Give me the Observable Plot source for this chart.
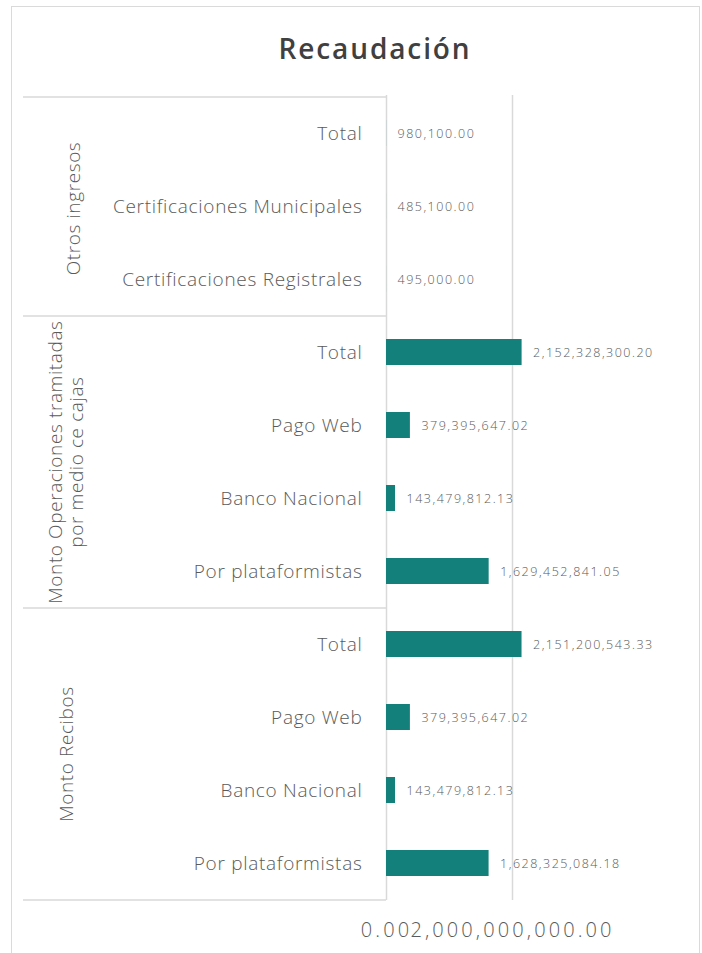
<!DOCTYPE html>
<html>
<head>
<meta charset="utf-8">
<script src="https://cdn.jsdelivr.net/npm/d3@7"></script>
<script src="https://cdn.jsdelivr.net/npm/@observablehq/plot@0.6"></script>
<style>
  html, body { margin: 0; padding: 0; background: #fff; overflow: hidden; }
  #frame { position: absolute; left: 11px; top: 6px; width: 689px; height: 1000px;
           border: 1.5px solid #dadada; box-sizing: border-box; }
  #title { position: absolute; left: 0; top: 0; width: 750px; height: 96px; line-height: 96px;
           text-align: center; font-family: "Open Sans", Lato, sans-serif; font-weight: 600;
           font-size: 28px; letter-spacing: 1.9px; color: #404040; }
  #chart { position: absolute; left: 0; top: 85px; }
  #chart svg { background: transparent; }
  #chart g[aria-label="x-axis tick label"] text { letter-spacing: 3.1px; }
  #chart g[aria-label="y-axis tick label"] text { letter-spacing: 0.7px; }
  #chart g.vals text { letter-spacing: 1.5px; }
  #chart g.grp text { letter-spacing: 0.6px; }
</style>
</head>
<body>
<div id="frame"></div>
<div id="title">Recaudación</div>
<div id="chart"></div>
<script>
// ---- data ----
const groupNames = ["Otros ingresos", "Monto Operaciones tramitadas\npor medio ce cajas", "Monto Recibos"];
const otrosCats = ["Total", "Certificaciones Municipales", "Certificaciones Registrales"];
const otrosValues = [980100.00, 485100.00, 495000.00];
const cajasCats = ["Total", "Pago Web", "Banco Nacional", "Por plataformistas"];
const cajasValues = [2152328300.20, 379395647.02, 143479812.13, 1629452841.05];
const recibosCats = ["Total", "Pago Web", "Banco Nacional", "Por plataformistas"];
const recibosValues = [2151200543.33, 379395647.02, 143479812.13, 1628325084.18];
const xTicks = [0, 2000000000];

// ---- build table ----
const groupCats = [otrosCats, cajasCats, recibosCats];
const groupValues = [otrosValues, cajasValues, recibosValues];
const rows = [];
groupNames.forEach((g, gi) => {
  groupCats[gi].forEach((c, ci) => {
    rows.push({group: g, cat: c, value: groupValues[gi][ci], key: gi + "|" + c});
  });
});
const keys = rows.map(d => d.key);

// ---- layout ----
const W = 702, H = 868;
const mt = 10, mb = 53, ml = 386, mr = 13.6;
const step = (H - mt - mb) / keys.length;
const pad = 0.645;

const groupLabels = groupNames.map((g, gi) => {
  const gr = rows.filter(d => d.group === g);
  const n = gr.length;
  return {name: g, key: gr[Math.floor((n - 1) / 2)].key, even: n % 2 === 0};
});
const groupTops = groupNames.map(g => rows.find(d => d.group === g));
const lastRow = [rows[rows.length - 1]];

const fmt = d3.format(",.2f");
const gray = "#5a5a5a";
const lineCol = "#d9d9d9";
const font = "'Open Sans', Lato, sans-serif";

const chart = Plot.plot({
  width: W, height: H,
  marginTop: mt, marginBottom: mb, marginLeft: ml, marginRight: mr,
  style: {fontFamily: font, color: gray, background: "transparent"},
  x: {domain: [0, 4800000000]},
  y: {domain: keys, paddingInner: pad, paddingOuter: pad / 2},
  marks: [
    Plot.ruleX(xTicks, {stroke: lineCol, strokeWidth: 1.5}),
    Plot.ruleY(groupTops, {y: "key", x1: 0, x2: 0, insetLeft: -363, dy: -step / 2, stroke: lineCol, strokeWidth: 1.5}),
    Plot.ruleY(lastRow, {y: "key", x1: 0, x2: 0, insetLeft: -363, dy: step / 2, stroke: lineCol, strokeWidth: 1.5}),
    Plot.barX(rows, {x: "value", y: "key", fill: "#13807b"}),
    Plot.text(rows, {x: "value", y: "key", text: d => fmt(d.value), textAnchor: "start", dx: 11,
                     fontSize: 12.5, fontWeight: 300, fill: gray, className: "vals"}),
    Plot.text(groupLabels.filter(d => !d.even), {y: "key", text: "name", frameAnchor: "left", rotate: -90,
                     textAnchor: "middle", dx: -314, dy: 2, fontSize: 19, fontWeight: 300, fill: gray, lineHeight: 1.15, className: "grp"}),
    Plot.text(groupLabels.filter(d => d.even), {y: "key", text: "name", frameAnchor: "left", rotate: -90,
                     textAnchor: "middle", dx: -321, dy: step / 2, fontSize: 19, fontWeight: 300, fill: gray, lineHeight: 1.15, className: "grp"}),
    Plot.axisY({tickSize: 0, tickPadding: 24, tickFormat: k => k.split("|")[1], fontSize: 19, fontWeight: 300, fill: gray, label: null}),
    Plot.axisX(xTicks, {tickSize: 0, tickPadding: 22, tickFormat: fmt, fontSize: 20, fontWeight: 300, fill: gray, label: null})
  ]
});
document.getElementById("chart").appendChild(chart);
</script>
</body>
</html>
